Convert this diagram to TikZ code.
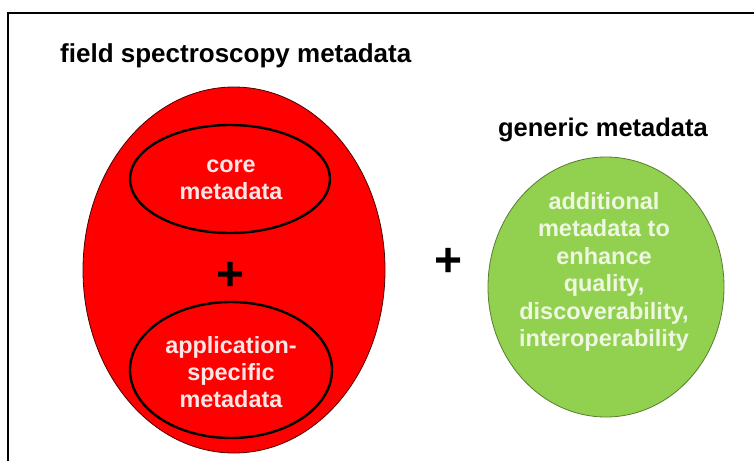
\documentclass[tikz,border=0pt]{standalone}
\usepackage{fontspec}
\setmainfont{Liberation Sans}
\usetikzlibrary{shapes.geometric}
\definecolor{outerred}{HTML}{FF0000}
\definecolor{leafgreen}{HTML}{92D050}
\definecolor{palered}{HTML}{FFE6E6}
\definecolor{palegreen}{HTML}{EEF7E0}
\begin{document}
\begin{tikzpicture}[x=1pt,y=-1pt,
  heading/.style={font=\bfseries\fontsize{26}{30}\selectfont, text=black, inner sep=0pt},
  inner/.style={font=\bfseries\fontsize{23.4}{27}\selectfont, align=center, inner sep=0pt},
  plus/.style={font=\bfseries\fontsize{48}{48}\selectfont, text=black, inner sep=0pt},
]
\useasboundingbox (0,0) rectangle (754,461);
\fill[white] (0,0) rectangle (754,461);
% frame
\draw[line width=2pt] (8,461) -- (8,13) -- (754,13);

% field spectroscopy block
\node[heading, anchor=base west] (fsm) at (60,62) {field spectroscopy metadata};
\draw[fill=outerred, draw=black!70!red, line width=0.8pt] (234,270) ellipse [x radius=151, y radius=183];
\draw[line width=2.4pt] (230,179) ellipse [x radius=100, y radius=54];
\node[inner, text=palered] (core) at (231,180) {core\\metadata};
\node[plus] (p1) at (231,276) {+};
\draw[line width=2.4pt] (231,370) ellipse [x radius=101, y radius=68];
\node[inner, text=palered] (app) at (231,372) {application-\\specific\\metadata};

% generic block
\node[plus] (p2) at (449,262) {+};
\node[heading, font=\bfseries\fontsize{25.5}{30}\selectfont] (gen) at (603,130) {generic metadata};
\draw[fill=leafgreen, draw=black!40!leafgreen, line width=0.8pt] (606,287) ellipse [x radius=118, y radius=130];
\node[inner, text=palegreen, font=\bfseries\fontsize{23.5}{27.5}\selectfont] (add) at (604,272) {additional\\metadata to\\enhance\\quality,\\discoverability,\\interoperability};
\end{tikzpicture}
\end{document}
